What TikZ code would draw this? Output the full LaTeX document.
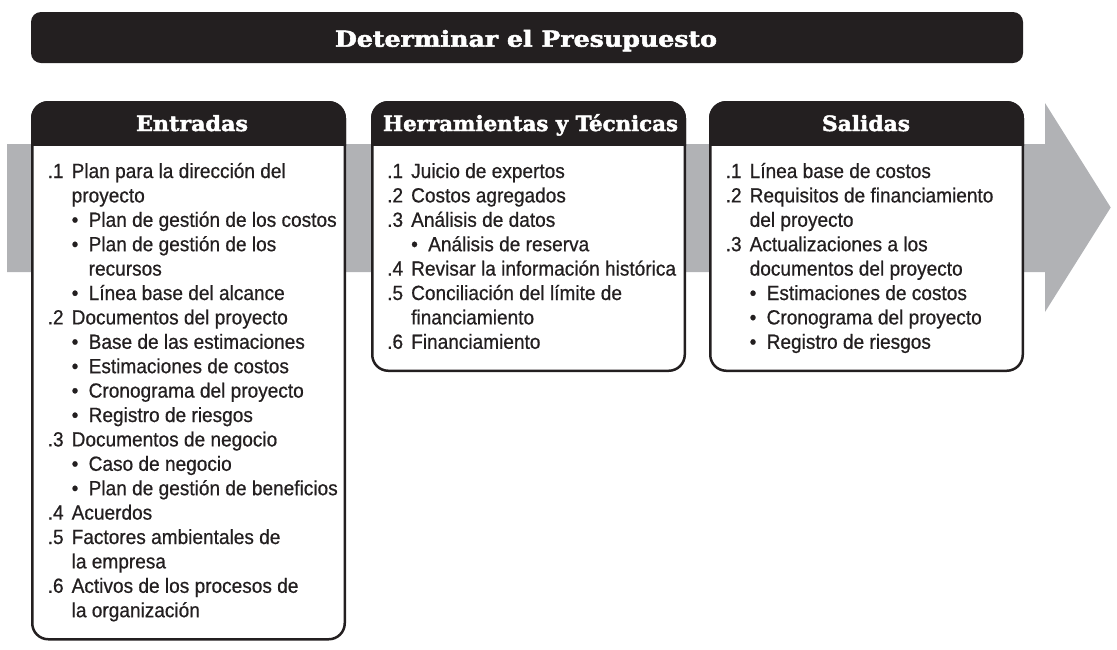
\documentclass[tikz,border=0pt]{standalone}
\usepackage{fontspec}
\setmainfont{Liberation Sans}
\newfontfamily\bodyfont[FakeStretch=0.93,FakeBold=0.6]{Liberation Sans}
\newfontfamily\hfont[BoldFeatures={FakeBold=2.2}]{DejaVu Serif}
\definecolor{dark}{HTML}{231F20}
\definecolor{arrowgray}{HTML}{B1B2B5}
\newcommand\NI[2]{\hbox{\makebox[24pt][l]{#1}#2}}
\newcommand\NC[1]{\hbox{\hspace*{24pt}#1}}
\newcommand\BI[1]{\hbox{\hspace*{24pt}\makebox[17pt][l]{\textbullet}#1}}
\newcommand\BC[1]{\hbox{\hspace*{41pt}#1}}
\newcommand\hdr[3]{\resizebox{#1}{\height}{\hfont\bfseries\fontsize{#2}{#2}\selectfont #3}}
\tikzset{
  panel/.style={draw=dark, line width=2.5pt, fill=white, rounded corners=16pt,
    inner sep=0pt, outer sep=0pt, anchor=north west},
  hdrtext/.style={text=white, inner sep=0pt, anchor=base},
  bodytext/.style={text=dark, inner sep=0pt, anchor=base west,
    font=\bodyfont\fontsize{20.5}{24.4}\selectfont}
}
\begin{document}
\begin{tikzpicture}[x=1pt,y=-1pt]
\useasboundingbox (0,0) rectangle (1117,649);
% gray arrow
\fill[arrowgray] (7,144) -- (1045,144) -- (1045,103) -- (1110.7,207.5) -- (1045,312) -- (1045,272) -- (7,272) -- cycle;
% title bar
\node[fill=dark, rounded corners=10pt, minimum width=992pt, minimum height=51pt, inner sep=0pt] (title) at (527,37.5) {};
\node[hdrtext] (titletext) at (526,46.7) {\hdr{382pt}{22}{Determinar el Presupuesto}};
% panels
\coordinate (hb) at (0,145);
\node[panel, minimum width=312.5pt, minimum height=537pt] (ent) at (32.25,102.25) {};
\node[panel, minimum width=312.5pt, minimum height=268.5pt] (her) at (372.25,102.25) {};
\node[panel, minimum width=312.5pt, minimum height=268.5pt] (sal) at (710.25,102.25) {};
\foreach \p in {ent,her,sal}{
  \begin{scope}
    \clip ([xshift=-5pt,yshift=5pt]\p.north west) rectangle ([xshift=5pt]\p.east |- hb);
    \path[fill=dark, draw=dark, line width=2.5pt, rounded corners=16pt] (\p.north west) rectangle (\p.south east);
  \end{scope}
}
\node[hdrtext] (enthdr) at (192,131) {\hdr{112pt}{21}{Entradas}};
\node[hdrtext] (herhdr) at (530.5,131) {\hdr{295pt}{21}{Herramientas y Técnicas}};
\node[hdrtext] (salhdr) at (866,131) {\hdr{88pt}{21}{Salidas}};
% contents
\node[bodytext] (entbody) at (47.5,178) {\vtop{%
\NI{.1}{Plan para la dirección del}
\NC{proyecto}
\BI{Plan de gestión de los costos}
\BI{Plan de gestión de los}
\BC{recursos}
\BI{Línea base del alcance}
\NI{.2}{Documentos del proyecto}
\BI{Base de las estimaciones}
\BI{Estimaciones de costos}
\BI{Cronograma del proyecto}
\BI{Registro de riesgos}
\NI{.3}{Documentos de negocio}
\BI{Caso de negocio}
\BI{Plan de gestión de beneficios}
\NI{.4}{Acuerdos}
\NI{.5}{Factores ambientales de}
\NC{la empresa}
\NI{.6}{Activos de los procesos de}
\NC{la organización}}};
\node[bodytext] (herbody) at (387,178) {\vtop{%
\NI{.1}{Juicio de expertos}
\NI{.2}{Costos agregados}
\NI{.3}{Análisis de datos}
\BI{Análisis de reserva}
\NI{.4}{Revisar la información histórica}
\NI{.5}{Conciliación del límite de}
\NC{financiamiento}
\NI{.6}{Financiamiento}}};
\node[bodytext] (salbody) at (725.5,178) {\vtop{%
\NI{.1}{Línea base de costos}
\NI{.2}{Requisitos de financiamiento}
\NC{del proyecto}
\NI{.3}{Actualizaciones a los}
\NC{documentos del proyecto}
\BI{Estimaciones de costos}
\BI{Cronograma del proyecto}
\BI{Registro de riesgos}}};
\end{tikzpicture}
\end{document}
